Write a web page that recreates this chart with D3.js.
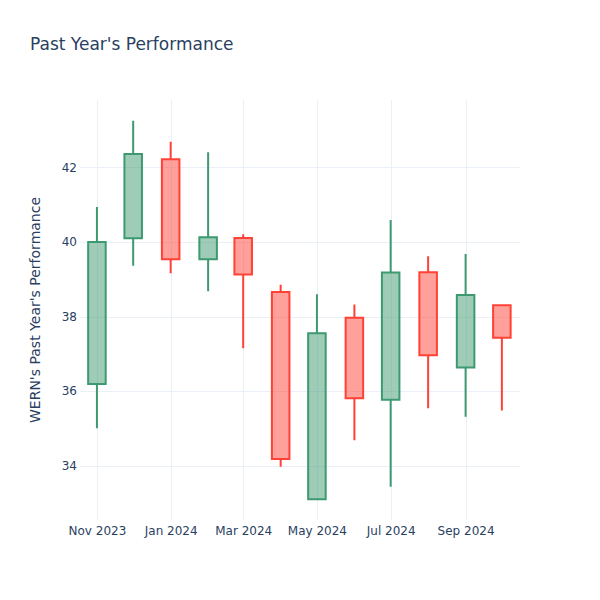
<!DOCTYPE html>
<html>
<head>
<meta charset="utf-8">
<script src="https://cdn.jsdelivr.net/npm/d3@7"></script>
<style>
  html, body { margin: 0; padding: 0; background: #fff; }
  svg text { font-family: "DejaVu Sans", "Open Sans", sans-serif; }
</style>
</head>
<body>
<svg id="chart" width="600" height="600"></svg>
<script>
// ---- data ----
const dates = ["2023-11-01","2023-12-01","2024-01-01","2024-02-01","2024-03-01","2024-04-01",
               "2024-05-01","2024-06-01","2024-07-01","2024-08-01","2024-09-01","2024-10-01"];
const openVals  = [36.19, 40.10, 42.22, 39.54, 40.11, 38.66, 33.10, 37.97, 35.77, 39.19, 36.63, 38.30];
const highVals  = [40.94, 43.25, 42.69, 42.41, 40.21, 38.85, 38.60, 38.32, 40.59, 39.62, 39.68, 38.30];
const lowVals   = [35.00, 39.36, 39.16, 38.68, 37.15, 33.97, 33.10, 34.68, 33.43, 35.54, 35.31, 35.48];
const closeVals = [40.00, 42.36, 39.54, 40.13, 39.13, 34.18, 37.55, 35.81, 39.18, 36.96, 38.58, 37.43];
const yTicks = [34, 36, 38, 40, 42];
const xTickDates = ["2023-11-01","2024-01-01","2024-03-01","2024-05-01","2024-07-01","2024-09-01"];
const xDomain = ["2023-10-18", "2024-10-16"];
const yDomain = [32.54, 43.81];
const titleText = "Past Year's Performance";
const yTitleText = "WERN's Past Year's Performance";

// ---- layout ----
const W = 600, H = 600;
const m = {l: 80, r: 80, t: 100, b: 80};
const parse = d3.utcParse("%Y-%m-%d");
const svg = d3.select("#chart");

const x = d3.scaleUtc().domain(xDomain.map(parse)).range([m.l, W - m.r]);
const y = d3.scaleLinear().domain(yDomain).range([H - m.b, m.t]);

const gridColor = "#ebf0f8";
const textColor = "#2a3f5f";

// grid
svg.append("g").selectAll("line").data(yTicks).join("line")
  .attr("x1", m.l).attr("x2", W - m.r)
  .attr("y1", d => Math.round(y(d)) + 0.5).attr("y2", d => Math.round(y(d)) + 0.5)
  .attr("stroke", gridColor).attr("stroke-width", 1);
svg.append("g").selectAll("line").data(xTickDates.map(parse)).join("line")
  .attr("y1", m.t).attr("y2", H - m.b)
  .attr("x1", d => Math.round(x(d)) + 0.5).attr("x2", d => Math.round(x(d)) + 0.5)
  .attr("stroke", gridColor).attr("stroke-width", 1);

// axes
const yAxis = d3.axisLeft(y).tickValues(yTicks).tickSize(0).tickPadding(3);
const gy = svg.append("g").attr("transform", `translate(${m.l},0)`).call(yAxis);
gy.select(".domain").remove();
gy.selectAll("text").attr("fill", textColor).style("font-size", "12px")
  .style("font-family", "'DejaVu Sans', sans-serif");

const xAxis = d3.axisBottom(x).tickValues(xTickDates.map(parse)).tickSize(0).tickPadding(6)
  .tickFormat(d3.utcFormat("%b %Y"));
const gx = svg.append("g").attr("transform", `translate(0,${H - m.b})`).call(xAxis);
gx.select(".domain").remove();
gx.selectAll("text").attr("fill", textColor).style("font-size", "12px")
  .style("font-family", "'DejaVu Sans', sans-serif");

// candles
const data = dates.map((d, i) => ({
  date: parse(d), open: openVals[i], high: highVals[i], low: lowVals[i], close: closeVals[i]
}));
const halfDays = 7.25;
const inc = {line: "#3D9970", fill: "rgba(61,153,112,0.5)"};
const dec = {line: "#FF4136", fill: "rgba(255,65,54,0.5)"};

svg.append("g").selectAll("path").data(data).join("path")
  .attr("d", d => {
    const cx = x(d.date);
    const hw = x(d3.utcHour.offset(d.date, halfDays * 24)) - cx;
    const x0 = cx - hw, x1 = cx + hw;
    const yo = y(d.open), yc = y(d.close), yh = y(d.high), yl = y(d.low);
    const yTop = Math.min(yo, yc), yBot = Math.max(yo, yc);
    return `M${x0},${yo}H${x1}V${yc}H${x0}Z` +
           `M${cx},${yTop}V${yh}M${cx},${yBot}V${yl}`;
  })
  .attr("fill", d => d.close >= d.open ? inc.fill : dec.fill)
  .attr("stroke", d => d.close >= d.open ? inc.line : dec.line)
  .attr("stroke-width", 2);

// titles
svg.append("text").attr("x", 30).attr("y", 50)
  .attr("fill", textColor).style("font-size", "17px").text(titleText);
svg.append("text")
  .attr("transform", `translate(40,${(m.t + H - m.b) / 2}) rotate(-90)`)
  .attr("text-anchor", "middle")
  .attr("fill", textColor).style("font-size", "14px").text(yTitleText);
</script>
</body>
</html>
